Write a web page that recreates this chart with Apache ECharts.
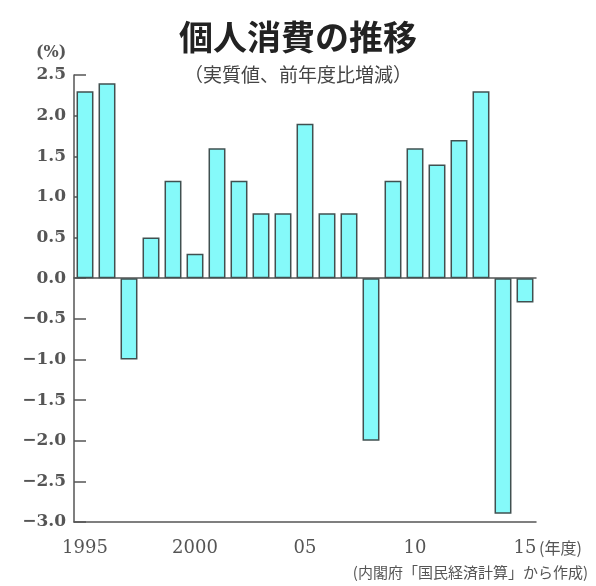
<!DOCTYPE html>
<html>
<head>
<meta charset="utf-8">
<script src="https://cdn.jsdelivr.net/npm/echarts@6.0.0/dist/echarts.min.js"></script>
<style>
  html, body { margin: 0; padding: 0; background: #fff; }
  #chart { width: 596px; height: 586px; }
</style>
</head>
<body>
<div id="chart"></div>
<script>
// fiscal years 1995..2015
const years = ['1995', '1996', '1997', '1998', '1999', '2000', '2001', '2002', '2003', '2004',
    '2005', '2006', '2007', '2008', '2009', '2010', '2011', '2012', '2013', '2014', '2015'];
const yearLabels = {'1995': '1995', '2000': '2000', '2005': '05', '2010': '10', '2015': '15'};
const growth = [2.3, 2.4, -1.0, 0.5, 1.2, 0.3, 1.6, 1.2, 0.8, 0.8,
    1.9, 0.8, 0.8, -2.0, 1.2, 1.6, 1.4, 1.7, 2.3, -2.9, -0.3];

const serif = '"DejaVu Serif", "Liberation Serif", serif';
const jp = '"Noto Sans CJK JP", sans-serif';
const ink = '#555';

const chart = echarts.init(document.getElementById('chart'));
chart.setOption({
    backgroundColor: '#fff',
    animation: false,
    title: [
        { text: '個人消費の推移', left: 'center', top: 15,
          textStyle: { fontFamily: jp, fontSize: 34, fontWeight: 'bold', color: '#222' } },
        { text: '（実質値、前年度比増減）', left: 'center', top: 60,
          textStyle: { fontFamily: jp, fontSize: 19, fontWeight: 'normal', color: '#444' } }
    ],
    graphic: [
        { type: 'text', left: 36, top: 45,
          style: { text: '(%)', font: 'bold 16px ' + serif, fill: ink } },
        { type: 'text', left: 539, top: 540,
          style: { text: '(年度)', font: '16px ' + jp, fill: ink } },
        { type: 'text', right: 8, top: 565,
          style: { text: '(内閣府「国民経済計算」から作成)', font: '15px ' + jp, fill: ink } }
    ],
    grid: { left: 74, right: 60, top: 75, bottom: 64 },
    xAxis: [
        {
            type: 'category',
            data: years,
            position: 'bottom',
            axisLine: { onZero: false, lineStyle: { color: ink, width: 1.5 } },
            axisTick: { interval: 0, length: 9, lineStyle: { color: ink, width: 1.5 } },
            axisLabel: {
                interval: 0, margin: 17,
                formatter: v => yearLabels[v] || '',
                fontFamily: serif, fontSize: 18, color: ink
            },
            splitLine: { show: false }
        },
        {
            type: 'category',
            data: years,
            position: 'bottom',
            axisLine: { onZero: true, lineStyle: { color: ink, width: 1.5 } },
            axisTick: { interval: 0, length: 5, lineStyle: { color: ink, width: 1.5 } },
            axisLabel: { show: false },
            splitLine: { show: false }
        }
    ],
    yAxis: {
        type: 'value',
        min: -3,
        max: 2.5,
        interval: 0.5,
        axisLine: { show: true, lineStyle: { color: ink, width: 1.5 } },
        axisTick: { show: true, inside: true, length: 12, lineStyle: { color: ink, width: 1.5 } },
        axisLabel: {
            margin: 8,
            formatter: v => (v < 0 ? '\u2212' : '') + Math.abs(v).toFixed(1),
            fontFamily: serif, fontSize: 17, fontWeight: 'bold', color: ink
        },
        splitLine: { show: false }
    },
    series: [{
        type: 'bar',
        data: growth,
        barCategoryGap: '23%',
        itemStyle: { color: '#85fafa', borderColor: '#405050', borderWidth: 1.5 }
    }]
});
</script>
</body>
</html>
